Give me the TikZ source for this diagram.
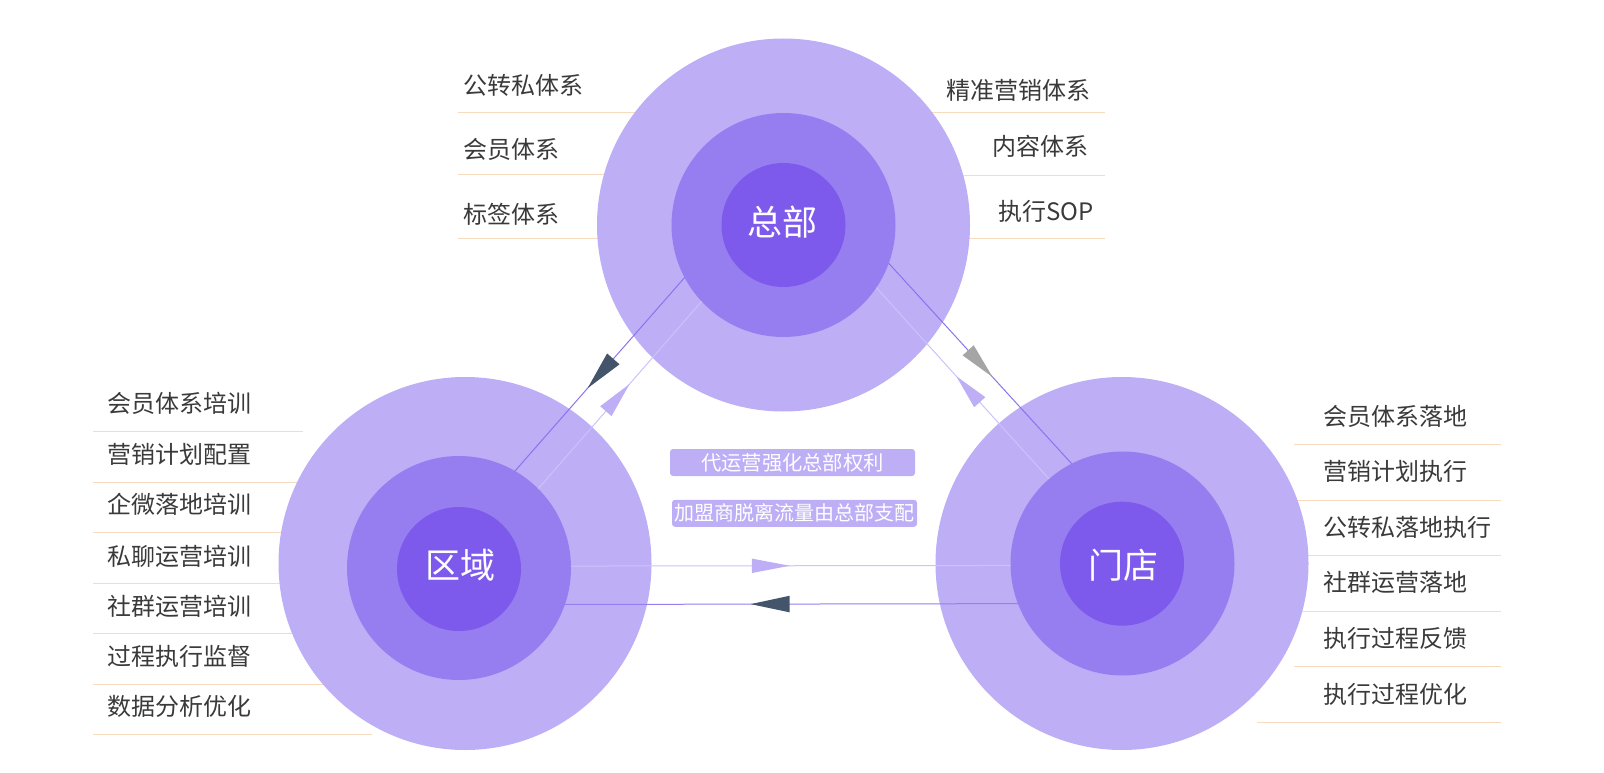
\documentclass[tikz,border=0pt]{standalone}
\usepackage{fontspec}
\newfontfamily\cjk{Noto Sans CJK SC}
\usetikzlibrary{decorations.markings}
\definecolor{ringA}{RGB}{189,174,246}
\definecolor{ringB}{RGB}{151,126,240}
\definecolor{ringC}{RGB}{126,90,236}
\definecolor{sepc}{RGB}{248,218,190}
\definecolor{txtc}{RGB}{58,58,58}
\definecolor{lnDark}{RGB}{140,115,238}
\definecolor{lnLight}{RGB}{205,194,250}
\definecolor{headDark}{RGB}{68,84,106}
\definecolor{headGray}{RGB}{165,165,165}
\tikzset{
  lbl/.style={anchor=base west, inner sep=0pt, text=txtc, font=\cjk\fontsize{24}{28}\selectfont},
  lblr/.style={anchor=base east, inner sep=0pt, text=txtc, font=\cjk\fontsize{24}{28}\selectfont},
  sepline/.style={draw=sepc, line width=1pt},
  ringout/.style={circle, fill=ringA, minimum size=373pt, inner sep=0pt, outer sep=0pt},
  ringmid/.style={circle, fill=ringB, minimum size=224pt, inner sep=0pt, outer sep=0pt},
  ringcore/.style={circle, fill=ringC, minimum size=124pt, inner sep=0pt, outer sep=0pt},
  coretext/.style={inner sep=0pt, text=white, font=\cjk\fontsize{35}{40}\selectfont},
  pill/.style={fill=ringA, rounded corners=3pt, minimum width=245pt, minimum height=27pt, inner sep=0pt, text=white},
  pilltext/.style={inner sep=0pt, text=white},
  conn/.style={line width=1pt},
  tipmark/.style n args={4}{postaction={decorate,decoration={markings,
     mark=at position #1 with {\fill[#2] (0pt,0pt) -- (-#3pt,#4pt) -- (-#3pt,-#4pt) -- cycle;}}}}
}
\begin{document}
\begin{tikzpicture}[x=1pt,y=-1pt]
\useasboundingbox (0,0) rectangle (1604,773);
% separator lines
\foreach \y in {113,175,238} \draw[sepline] (458,\y) -- (680,\y);
\foreach \y in {113,176,238} \draw[sepline] (880,\y) -- (1105,\y);
\draw[sepline] (93,431) -- (303,431);
\foreach \y in {482,532,583,633,684} \draw[sepline] (93,\y) -- (400,\y);
\draw[sepline] (93,734) -- (372,734);
\draw[sepline] (1294,444) -- (1501,444);
\foreach \y in {500,555,611} \draw[sepline] (1200,\y) -- (1501,\y);
\draw[sepline] (1294,666) -- (1501,666);
\draw[sepline] (1257,722) -- (1501,722);
% circles
\node[ringout] (hqO) at (783.5,225) {};
\node[ringmid] (hq) at (783.5,225) {};
\node[ringcore] (hqC) at (783.5,225) {};
\node[coretext] (hqT) at (782.5,222) {总部};
\node[ringout] (regO) at (465,563.5) {};
\node[ringmid] (reg) at (459,568) {};
\node[ringcore] (regC) at (459,569) {};
\node[coretext] (regT) at (460,565) {区域};
\node[ringout] (stoO) at (1122,563.5) {};
\node[ringmid] (sto) at (1122.5,563.5) {};
\node[ringcore] (stoC) at (1122,563.7) {};
\node[coretext] (stoT) at (1123,565) {门店};
% labels top-left
\node[lbl] (tl1) at (463,95) {公转私体系};
\node[lbl] (tl2) at (463,159) {会员体系};
\node[lbl] (tl3) at (463,223) {标签体系};
% labels top-right
\node[lblr] (tr1) at (1091,100) {精准营销体系};
\node[lblr] (tr2) at (1089,156) {内容体系};
\node[lblr] (tr3) at (1094,220) {执行SOP};
% labels left
\node[lbl] (l1) at (107.5,412) {会员体系培训};
\node[lbl] (l2) at (107.5,463) {营销计划配置};
\node[lbl] (l3) at (107.5,513.5) {企微落地培训};
\node[lbl] (l4) at (107.5,565.7) {私聊运营培训};
\node[lbl] (l5) at (107.5,615) {社群运营培训};
\node[lbl] (l6) at (107.5,665) {过程执行监督};
\node[lbl] (l7) at (107.5,715.7) {数据分析优化};
% labels right
\node[lbl] (r1) at (1323,425.7) {会员体系落地};
\node[lbl] (r2) at (1323,480.8) {营销计划执行};
\node[lbl] (r3) at (1323,536.5) {公转私落地执行};
\node[lbl] (r4) at (1323,591.8) {社群运营落地};
\node[lbl] (r5) at (1323,647.5) {执行过程反馈};
\node[lbl] (r6) at (1323,703) {执行过程优化};
% connectors
\draw[conn, lnDark, tipmark={0.572}{headDark}{39}{8.25}] (hq.208.2) -- (reg.60.5);
\draw[conn, lnLight, tipmark={0.559}{ringA}{36}{7.5}] (reg.45.8) -- (hq.223.4);
\draw[conn, lnDark, tipmark={0.567}{headGray}{36}{7.5}] (hq.340) -- (sto.117.7);
\draw[conn, lnLight, tipmark={0.537}{ringA}{35}{7.5}] (sto.131.5) -- (hq.326.1);
\draw[conn, lnLight, tipmark={0.498}{ringA}{38}{7.2}] (reg.1) -- (sto.181.3);
\draw[conn, ringB, tipmark={0.59}{headDark}{39}{8.3}] (sto.201) -- (reg.341.7);
% pills
\node[pill] (p1) at (792.5,462.5) {};
\node[pilltext, font=\cjk\fontsize{20.3}{24}\selectfont] (p1t) at (p1) {代运营强化总部权利};
\node[pill] (p2) at (794.5,513.3) {};
\node[pilltext, font=\cjk\fontsize{20}{24}\selectfont] (p2t) at (p2) {加盟商脱离流量由总部支配};
\end{tikzpicture}
\end{document}
